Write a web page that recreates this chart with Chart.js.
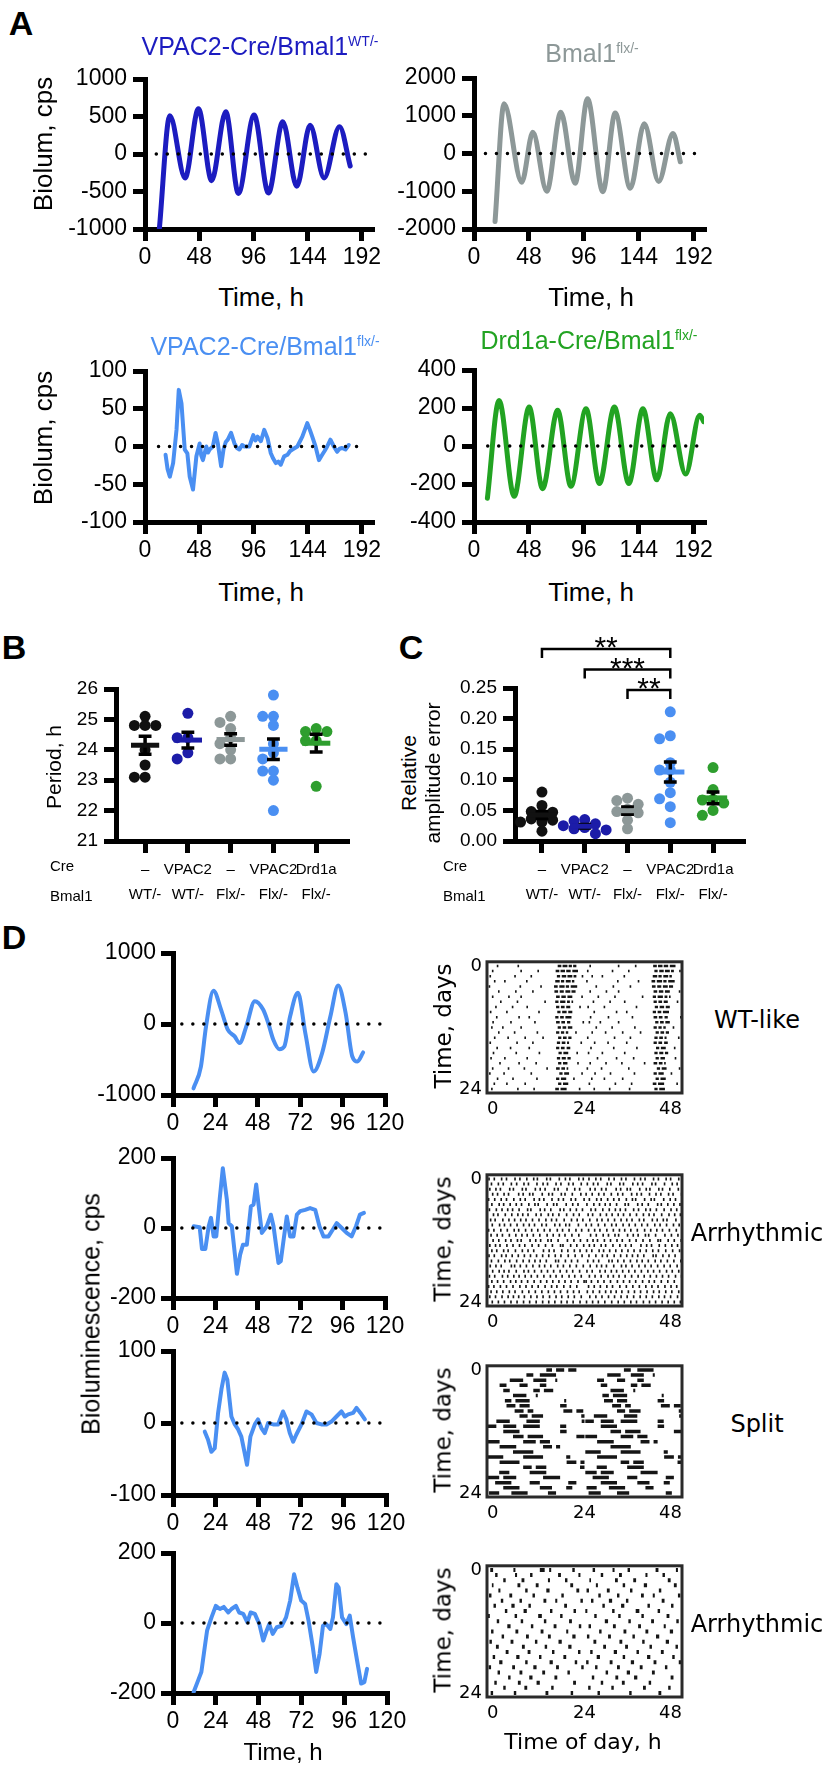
<!DOCTYPE html>
<html>
<head>
<meta charset="utf-8">
<script src="https://cdn.jsdelivr.net/npm/chart.js@4.4.0/dist/chart.umd.min.js"></script>
<style>
  body { margin: 0; background: #fff; }
  #page { position: relative; width: 826px; height: 1769px; overflow: hidden; font-family: "Liberation Sans", Arial, sans-serif; background: #fff; }
  canvas { position: absolute; }
  .t { position: absolute; white-space: nowrap; line-height: 1; transform-origin: 50% 50%; }
  .sup { font-size: 0.56em; position: relative; top: -0.62em; }
</style>
</head>
<body>
<div id="page"></div>
<script>
const page = document.getElementById("page");
const FONT = '"Liberation Sans", Arial, sans-serif';
const DJ = '"DejaVu Sans", sans-serif';
Chart.defaults.font.family = FONT;
Chart.defaults.color = "#000";

// ---- Panel A: bioluminescence traces (hours, cps) ----
const a1Time = [12.7, 22.0, 35.5, 47.3, 59.0, 71.5, 82.7, 96.6, 109.3, 122.0, 134.4, 146.2, 158.6, 172.2, 181.7];
const a1Lum = [-1000, 510, -320, 605, -355, 565, -525, 520, -520, 430, -430, 385, -320, 365, -160];

const a2Time = [18.4, 26.3, 41.7, 51.4, 63.6, 75.9, 88.4, 99.2, 112.6, 123.4, 136.6, 148.8, 161.4, 173.9, 180.3];
const a2Lum = [-1800, 1320, -760, 560, -1000, 1090, -790, 1450, -1010, 1070, -920, 790, -740, 530, -220];

const a3Time = [18.2, 20.0, 22.0, 24.9, 27.9, 29.9, 32.3, 35.2, 37.5, 39.6, 42.5, 44.0, 45.5, 48.4, 49.8, 51.3, 54.3, 55.8, 57.2, 60.1, 62.5, 64.5, 67.4, 69.5, 71.5, 73.3, 76.2, 79.2, 81.5, 83.6, 86.0, 88.0, 92.4, 95.9, 97.8, 99.7, 102.6, 105.6, 108.5, 111.4, 113.5, 115.8, 118.0, 120.2, 123.2, 126.1, 128.5, 130.5, 134.9, 139.3, 143.7, 146.0, 148.1, 151.0, 154.0, 156.9, 159.0, 161.3, 164.2, 167.2, 170.1, 172.3, 174.5, 177.5, 180.4];
const a3Lum = [-11, -30, -40, -22, 22, 75, 57, -4, -9, -40, -57, -35, -13, 4, -12, -18, 0, -8, -4, 0, 18, 4, -26, -4, 6, 9, 18, 4, -2, -4, 2, 0, 0, 15, 8, 13, 7, 22, 11, -9, -16, -22, -20, -24, -13, -11, -6, -4, 0, 13, 31, 22, 13, 0, -18, -11, -6, 0, 9, 0, -7, -3, -2, -4, 2];

const a4Time = [11.7, 21.9, 35.1, 48.2, 59.9, 73.1, 84.7, 97.9, 109.6, 122.7, 135.3, 147.6, 159.8, 171.5, 185.0, 197.2, 200.7];
const a4Lum = [-275, 240, -265, 205, -225, 188, -212, 196, -198, 205, -198, 196, -178, 170, -148, 162, 128];

const aTicksX = [0, 48, 96, 144, 192];

// ---- Panels B and C: per-slice values by genotype ----
const creLabels = ["\u2013", "VPAC2", "\u2013", "VPAC2", "Drd1a"];
const bmalLabels = ["WT/-", "WT/-", "Flx/-", "Flx/-", "Flx/-"];
const groupColors = ["#111111", "#1c1ca8", "#8d9898", "#4a8ff2", "#2e9e2e"];

const periodVals = [
  [25.1, 24.8, 24.8, 24.8, 24.0, 23.5, 23.1, 23.1],
  [25.2, 24.4, 24.4, 23.9, 23.7],
  [25.1, 24.9, 24.7, 24.4, 24.2, 24.0, 23.7, 23.7],
  [25.8, 25.1, 25.1, 24.8, 24.2, 23.9, 23.7, 23.3, 23.3, 23.0, 22.0],
  [24.7, 24.6, 24.6, 24.3, 24.3, 22.8]
];
const raeVals = [
  [0.080, 0.058, 0.048, 0.047, 0.044, 0.036, 0.034, 0.031, 0.031, 0.016],
  [0.035, 0.033, 0.028, 0.025, 0.022, 0.020, 0.018, 0.012],
  [0.070, 0.066, 0.060, 0.052, 0.048, 0.046, 0.034, 0.020],
  [0.211, 0.172, 0.167, 0.128, 0.116, 0.116, 0.096, 0.079, 0.069, 0.056, 0.030],
  [0.120, 0.084, 0.068, 0.067, 0.062, 0.050, 0.042]
];
const sigPairs = [[0, 3], [1, 3], [2, 3]];
const sigMarks = ["**", "***", "**"];

// ---- Panel D: example traces ----
const d1Time = [11.6, 15.8, 18.7, 22.9, 27.2, 31.0, 34.9, 37.7, 41.5, 46.3, 51.0, 53.9, 56.8, 60.2, 63.0, 66.3, 70.7, 74.9, 79.6, 84.4, 89.1, 93.5, 97.7, 101.5, 104.4, 107.6];
const d1Lum = [-906, -599, -33, 470, 203, -80, -175, -269, -33, 321, 203, 14, -222, -354, -316, 108, 439, -127, -670, -410, 108, 542, 156, -458, -528, -401];

const d2Time = [11.7, 15.1, 16.4, 18.3, 20.2, 21.5, 23.0, 24.5, 26.4, 28.2, 30.5, 31.5, 33.3, 34.7, 36.2, 38.0, 39.6, 41.8, 44.1, 45.6, 47.1, 48.4, 50.3, 53.1, 55.4, 56.9, 59.7, 61.0, 62.5, 64.4, 66.3, 68.2, 70.1, 72.0, 74.8, 77.6, 80.5, 82.9, 85.2, 88.0, 90.4, 92.7, 95.5, 98.3, 101.1, 103.6, 105.8, 108.1];
const d2Lum = [5, 2, -60, -60, 5, 29, -24, -24, 81, 171, 81, 14, 5, -60, -131, -76, -48, -48, 62, 67, 124, 67, -14, 5, 38, 5, -100, -95, -38, 33, -24, -24, 38, 48, 52, 57, 52, 5, -24, -24, -5, 14, 0, -14, -24, 5, 38, 43];

const d3Time = [17.9, 19.7, 21.6, 23.5, 25.4, 27.3, 29.1, 30.6, 32.9, 34.8, 36.7, 38.5, 40.4, 41.7, 43.6, 46.1, 47.9, 49.8, 51.7, 53.6, 56.4, 59.2, 62.0, 63.9, 65.8, 67.7, 69.5, 72.4, 75.2, 78.0, 80.8, 83.6, 86.5, 89.3, 92.1, 94.9, 96.8, 98.7, 101.5, 103.4, 105.6, 108.1];
const d3Lum = [-12, -23, -40, -35, 14, 47, 70, 60, 9, -2, -9, -19, -42, -58, -19, -2, 5, -7, -14, 0, -2, -2, 16, 5, -14, -26, -16, -2, 16, 12, 0, -2, -2, 2, 9, 16, 9, 12, 14, 21, 14, 5];

const d4Time = [11.6, 14.1, 15.9, 17.8, 19.1, 21.6, 24.0, 26.3, 28.5, 31.0, 32.8, 35.3, 37.1, 39.4, 41.7, 43.5, 45.9, 48.4, 50.6, 52.5, 54.0, 55.9, 58.2, 61.0, 63.4, 65.7, 67.9, 69.8, 71.9, 74.1, 76.0, 78.4, 80.3, 82.2, 84.1, 85.9, 88.2, 89.7, 91.6, 92.9, 94.8, 97.2, 99.1, 101.0, 103.2, 105.5, 107.3, 108.8];
const d4Lum = [-197, -164, -140, -69, -22, 16, 49, 40, 46, 30, 40, 49, 30, 26, 2, 30, 26, -3, -50, -22, -3, -31, -12, -8, 16, 64, 139, 101, 64, 54, 7, -69, -140, -88, -8, -3, -17, 16, 111, 101, 16, -3, 21, -41, -107, -173, -169, -131];

const dTicksX = [0, 24, 48, 72, 96, 120];

// ---- Actograms: activity per day, hours 0-24 ("a-b" bout or single tick "a") ----
const TICK_H = 0.4;
const actoWT = [
  "2.4 7.5 17.4-18.3 18.6-19.8 20.1-20.9 21.2-22.0", "1.2 8.2 12.4 16.9-17.8 18.1-19.2 19.5-20.6 21.0-22.4",
  "0.6 6.7 10.7 17.2-18.0 18.4-19.5 19.8-21.0 21.3-22.0 23.3", "1.7 4.2 9.6 16.8-17.9 18.2-19.0 19.4-20.6 20.9-21.5",
  "0.4 8.0 13.1 16.5-17.4 17.8-19.1 19.4-20.2 20.6-22.2", "2.7 6.9 11.1 16.6-17.5 17.9-18.9 19.3-20.5 20.8-21.8",
  "1.2 5.2 8.2 17.0-17.9 18.3-19.4 19.8-21.0 23.2", "3.2 7.3 14.1 16.8-17.6 18.0-19.3 19.7-20.4 20.8-21.2",
  "2.0 6.1 9.7 17.0-17.8 18.2-19.1 19.5-20.5 22.7", "0.7 4.7 12.6 17.3-18.1 18.5-19.6 20.0-21.0",
  "2.2 7.7 10.2 16.8-17.6 18.0-18.9 19.3-20.8", "1.3 5.7 11.6 17.0-17.9 18.3-19.2 19.7-20.5 23.5",
  "1.0 3.7 8.2 17.4-18.2 18.6-19.5 19.9-21.0", "2.7 6.6 12.2 17.0-17.8 18.2-19.0 19.4-20.0 21.7",
  "1.7 5.0 9.2 13.6 17.5-18.3 18.7-19.6 20.0-20.8", "0.6 7.2 11.1 17.2-18.0 18.4-19.3 19.7-20.2 23.0",
  "2.3 5.6 10.2 17.0-17.8 18.2-19.1 19.6-20.5", "1.4 7.0 12.7 17.6-18.4 18.8-20.0 22.0",
  "0.8 4.2 9.7 17.2-18.0 18.4-19.4 19.8-20.6", "3.0 7.7 11.9 17.5-18.3 18.7-19.8 22.2",
  "1.2 5.1 9.0 14.6 17.0-17.9 18.3-19.2 19.6-20.0", "0.5 4.0 10.7 17.8-18.6 19.0-20.2 23.2",
  "2.4 6.2 12.1 17.0-17.8 18.2-19.5 21.2", "1.6 4.7 9.2 17.5-18.3 18.7-20.0",
  "1.0 7.4 11.4 16.8-17.7 18.1-19.6 22.6", "2.2 6.0 10.9 17.2-18.0 18.4-19.8"
];
const actoArr1 = [
  "0.3 1.6 3.4 4.6 6.7 7.9 9.6 11.3 12.2 14.5 15.4 17.6 19.1 20.2 22.4 23.5",
  "0.9 2.6 3.8 5.8 7.1 8.9 10.0 12.1 13.6 14.7 16.8 18.0 19.9 21.0 23.0",
  "0.5 2.0 3.1 5.4 6.3 8.5 9.4 11.7 12.9 14.1 16.4 17.3 19.5 21.4 22.6",
  "1.2 2.4 4.0 5.1 7.6 8.7 10.3 11.1 13.4 15.0 15.9 18.1 19.0 20.8 22.9",
  "0.2 1.7 3.3 4.6 6.4 8.0 9.2 11.4 12.7 13.8 15.8 17.4 18.6 20.5 21.6 23.7",
  "1.0 2.8 3.9 5.5 7.0 8.3 10.1 11.6 12.4 14.6 16.2 17.0 19.3 20.9 22.2",
  "0.4 2.1 3.5 4.9 6.1 7.7 9.8 10.6 12.9 14.0 15.5 17.8 18.7 20.3 21.8 23.3",
  "1.4 2.5 4.3 5.9 7.4 8.6 9.9 11.9 13.1 14.9 16.0 17.5 19.4 21.1 22.5",
  "0.7 1.8 3.7 5.2 6.6 8.1 9.4 11.0 12.6 14.3 15.7 16.9 18.8 20.6 22.0 23.4",
  "1.1 2.9 4.1 5.6 7.2 8.8 10.2 11.5 13.3 14.4 16.5 17.7 19.2 20.1 22.3",
  "0.2 1.5 3.2 4.8 6.5 7.6 9.3 10.8 12.3 13.9 15.3 17.1 18.4 20.0 21.7 23.1",
  "0.8 2.3 3.6 5.3 6.9 8.4 9.7 11.2 12.8 14.6 16.1 17.6 19.0 20.7 22.4",
  "1.3 2.7 4.4 5.7 7.3 8.2 10.4 11.8 13.0 14.8 15.6 17.3 19.6 21.2 22.8",
  "0.5 1.9 3.0 4.7 6.2 7.8 9.1 10.9 12.5 14.2 15.9 17.9 18.5 20.4 21.9 23.6",
  "1.0 2.2 3.9 5.0 6.8 8.5 9.9 11.3 13.7 15.1 16.3 18.2 19.7 21.3 22.7",
  "0.3 1.6 3.4 4.5 6.0 7.5 9.0 10.5 12.0 13.5 15.0 16.6 18.0 19.8 21.5 23.2",
  "0.9 2.6 4.2 5.4 7.1 8.7 10.2 11.6 12.9 14.4 16.7 17.4 19.1 20.6 22.1",
  "0.6 2.0 3.3 5.8 6.6 8.0 9.5 11.1 12.7 14.0 15.5 17.2 18.6 20.2 21.8 23.5",
  "1.2 2.8 4.0 5.2 7.0 8.9 10.0 11.5 13.2 14.7 16.2 17.8 19.4 20.9 22.6",
  "0.4 1.7 3.6 4.9 6.4 7.7 9.2 10.7 12.2 13.8 15.4 16.8 18.3 20.0 21.4 23.0",
  "1.0 2.4 3.9 5.6 6.9 8.3 9.8 11.4 13.0 14.5 16.0 17.5 19.0 20.5 22.2 23.7",
  "0.2 1.5 3.1 4.6 6.2 7.9 9.4 10.9 12.4 14.1 15.7 17.0 18.7 20.3 21.9",
  "0.8 2.2 3.7 5.3 6.7 8.5 10.1 11.7 13.3 14.9 16.4 17.9 19.6 21.1 22.5",
  "0.5 1.9 3.5 5.0 6.3 7.6 9.0 10.6 12.1 13.6 15.2 16.8 18.2 19.8 21.3 23.0",
  "1.1 2.6 4.1 5.7 7.2 8.8 10.3 11.9 13.5 15.0 16.5 18.1 19.5 21.0 22.7",
  "0.3 1.8 3.2 4.8 6.5 8.1 9.6 11.2 12.6 14.3 15.8 17.3 18.9 20.4 21.9 23.4"
];
const actoSplit = [
  "14.6-16 17-19 20-22", "9.7-11.4 13-17", "5.6-8.9 11.4-14.6 16.8-17.3", "3.1-4.8 8-10 13-14.6",
  "4-5.6 11.4-13 14-16.3", "6.4-9.7 12-12.5", "4.4-6 7-10.5 19-19.5", "4.8-7 8-10.5 18-19.6",
  "6.8-9 10-11.4 18.8-21 22-23.7", "8-10 11-13.8 23.2-24", "2.3-5.6 9.7-13 23.3-24", "0.2-2.3 4-7.2 8.9-13 18-19.5",
  "4-8 18-19.6", "6.4-9 10-13.8 22-24", "0.2-3.1 8.9-12 13-15.5", "3.1-7.2 13.8-16 17-18",
  "6.4-11.4", "0.2-4 8.9-13.8 19.5-20.5", "3.1-8 19.6-22 23-24", "8.9-11 12-14.6 22.9-24",
  "3-5.5 10.5-14.6", "0.2-3 4-7.2 13.8-18", "2-6 10.5-13 20-22", "4-8 13-16 19.5-21",
  "0.5-3 6-10 15-17", "1-4 8-11 20-21.5"
];
const actoArr2 = [
  "0.8-1.5 6.5-7.0 13.0-14.2 15.3-15.8 21.0-21.6", "2.0-2.6 6.9-7.4 10.6-11.2 17.5-18.2 22.5-23.0", "4.0-4.6 8.5-9.2 15.0-15.5 19.2-19.8",
  "1.2-1.6 7.5-8.2 12.0-12.7 20.5-21.2", "2.8-3.3 9.4-10.0 14.6-15.4 22.0-22.7", "0.5-1.1 5.5-6.2 11.2-11.8 18.3-18.9",
  "3.4-4.0 8.0-8.6 13.9-14.6 16.8-17.3 23.0-23.6", "1.6-2.2 6.0-6.8 10.2-10.8 19.0-19.7", "4.4-5.0 9.0-9.8 15.5-16.1 21.3-21.9",
  "0.2-0.7 6.8-7.4 12.6-13.5 18.0-18.6", "2.4-3.0 8.3-8.9 14.0-14.6 20.2-20.9", "5.0-5.8 10.8-11.4 16.4-17.1 22.6-23.2",
  "1.0-1.6 7.0-7.7 13.2-13.9 19.5-20.0", "3.6-4.2 9.6-10.3 15.0-15.7 21.0-21.8", "0.6-1.2 5.8-6.5 11.8-12.4 17.6-18.4",
  "2.2-2.9 8.6-9.3 14.2-14.8 20.0-20.8", "4.6-5.3 10.0-10.7 16.0-16.6 22.4-23.0", "1.4-2.0 7.2-8.0 12.8-13.4 18.8-19.5",
  "3.0-3.8 9.4-10.0 15.4-16.2 21.6-22.2", "0.4-1.0 6.2-6.9 11.4-12.2 17.0-17.7 23.2-23.8", "2.6-3.2 8.0-8.7 13.6-14.3 19.8-20.4",
  "5.2-5.8 10.4-11.2 16.6-17.3", "1.8-2.4 7.6-8.3 12.2-13.0 21.2-21.9", "4.0-4.6 9.2-9.9 15.8-16.4",
  "0.9-1.5 6.6-7.2 14.4-15.1 20.6-21.2", "3.2-3.8 11.0-11.6 18.2-18.9"
];
const actoNames = ["WT-like", "Arrhythmic", "Split", "Arrhythmic"];

// ---------- helpers ----------
function txt(html, x, y, size, o) {
  o = o || {};
  const d = document.createElement("div");
  d.className = "t";
  d.innerHTML = html;
  d.style.left = x + "px";
  d.style.top = y + "px";
  d.style.fontSize = size + "px";
  if (o.color) d.style.color = o.color;
  if (o.bold) d.style.fontWeight = "bold";
  if (o.font) d.style.fontFamily = o.font;
  let tf = o.left ? "translate(0,-50%)" : "translate(-50%,-50%)";
  if (o.rot) tf += " rotate(-90deg)";
  d.style.transform = tf;
  page.appendChild(d);
  return d;
}

function axis(min, max, ticks, size, pad, fmt) {
  return {
    type: "linear", min: min, max: max,
    afterBuildTicks: s => { s.ticks = ticks.map(v => ({ value: v })); },
    ticks: { font: { size: size }, color: "#000", padding: pad, autoSkip: false, maxRotation: 0, callback: fmt || (v => String(v)) },
    grid: { display: true, drawOnChartArea: false, drawTicks: true, tickLength: 12, lineWidth: 5, color: "#000" },
    border: { display: true, width: 5, color: "#000" }
  };
}

// area = chart area [left, top, right, bottom] in page pixels; pad = room around it [l, t, r, b]
function makeChart(area, pad, datasets, xs, ys, plugins) {
  const w = area[2] - area[0] + pad[0] + pad[2];
  const h = area[3] - area[1] + pad[1] + pad[3];
  const c = document.createElement("canvas");
  c.width = w; c.height = h;
  c.style.left = (area[0] - pad[0]) + "px";
  c.style.top = (area[1] - pad[1]) + "px";
  c.style.width = w + "px"; c.style.height = h + "px";
  page.appendChild(c);
  xs.afterFit = s => { s.height = pad[3]; };
  ys.afterFit = s => { s.width = pad[0]; };
  return new Chart(c, {
    type: "line",
    data: { datasets: datasets },
    options: {
      responsive: false, animation: false, events: [],
      layout: { padding: { left: 0, top: pad[1], right: pad[2], bottom: 0 } },
      plugins: { legend: { display: false }, tooltip: { enabled: false } },
      scales: { x: xs, y: ys }
    },
    plugins: plugins || []
  });
}

function trace(xv, yv, color, width, smooth) {
  return {
    data: xv.map((x, i) => ({ x: x, y: yv[i] })),
    borderColor: color, borderWidth: width, pointRadius: 0, tension: 0,
    cubicInterpolationMode: smooth ? "monotone" : "default",
    borderJoinStyle: "round", borderCapStyle: "round", order: 2
  };
}
function zeroLine(from, to) {
  return {
    data: [{ x: from, y: 0 }, { x: to, y: 0 }],
    borderColor: "#000", borderWidth: 3.5, borderDash: [0, 11], borderCapStyle: "round",
    pointRadius: 0, order: 1
  };
}

function mean(a) { return a.reduce((s, v) => s + v, 0) / a.length; }
function sem(a) {
  const m = mean(a);
  const v = a.reduce((s, x) => s + (x - m) * (x - m), 0) / (a.length - 1);
  return Math.sqrt(v / a.length);
}
// spread overlapping dots sideways (beeswarm); gap = smallest allowed distance in px
function swarm(vals, pxPerY, gap) {
  const step = 0.25, placed = [], out = [];
  const cand = [0, -step, step, -2 * step, 2 * step];
  vals.forEach(v => {
    let best = 0, bestD = -1;
    for (const c of cand) {
      const d = placed.reduce((m, p) => Math.min(m, Math.hypot((c - p.o) * 42.8, (v - p.v) * pxPerY)), 1e9);
      if (d >= gap) { best = c; bestD = d; break; }
      if (d > bestD) { best = c; bestD = d; }
    }
    placed.push({ o: best, v: v });
    out.push(best);
  });
  return out;
}
function dotPlot(groups, pxPerY, gap) {
  const ds = [];
  groups.forEach((vals, i) => {
    const offs = swarm(vals, pxPerY, gap);
    const m = mean(vals), s = sem(vals);
    ds.push({ data: vals.map((v, k) => ({ x: i + offs[k], y: v })), showLine: false, pointRadius: 5.5, pointBorderWidth: 0, pointBackgroundColor: groupColors[i], order: 3 });
    ds.push({ data: [{ x: i - 0.15, y: m + s }, { x: i + 0.15, y: m + s }, { x: i, y: m + s }, { x: i, y: m - s }, { x: i - 0.15, y: m - s }, { x: i + 0.15, y: m - s }], borderColor: "#000", borderWidth: 3.5, pointRadius: 0, order: 2 });
    ds.push({ data: [{ x: i - 0.33, y: m }, { x: i + 0.33, y: m }], borderColor: groupColors[i], borderWidth: 5, pointRadius: 0, order: 1 });
  });
  return ds;
}

function boutsOf(str) {
  return str.trim().split(/\s+/).map(tok => {
    const p = tok.split("-").map(Number);
    return p.length > 1 ? p : [p[0], p[0] + TICK_H];
  });
}
// double-plotted: row r shows day r (0-24 h) and day r+1 (24-48 h)
function actoData(days) {
  const out = [];
  for (let r = 0; r < days.length - 1; r++) {
    [[days[r], 0], [days[r + 1], 24]].forEach(([d, off]) => {
      boutsOf(d).forEach(([a, b]) => {
        out.push({ x: a + off, y: r }, { x: b + off, y: r }, { x: b + off, y: null });
      });
    });
  }
  return out;
}

const framePlugin = {
  id: "frame",
  afterDraw(chart) {
    const a = chart.chartArea, ctx = chart.ctx;
    ctx.save();
    ctx.strokeStyle = "#2a2a2a"; ctx.lineWidth = 3;
    ctx.strokeRect(a.left, a.top, a.right - a.left, a.bottom - a.top);
    ctx.restore();
  }
};
const bracketPlugin = {
  id: "brackets",
  afterDatasetsDraw(chart) {
    const ctx = chart.ctx, x = chart.scales.x, top = chart.chartArea.top;
    ctx.save();
    ctx.strokeStyle = "#000"; ctx.fillStyle = "#000"; ctx.lineWidth = 2.5;
    ctx.font = "30px " + FONT; ctx.textAlign = "center"; ctx.textBaseline = "alphabetic";
    sigPairs.forEach((pr, k) => {
      const y = top + 2 - 20.5 * (sigPairs.length - 1 - k);
      const xa = x.getPixelForValue(pr[0]), xb = x.getPixelForValue(pr[1]);
      ctx.beginPath();
      ctx.moveTo(xa, y + 9); ctx.lineTo(xa, y); ctx.lineTo(xb, y); ctx.lineTo(xb, y + 9);
      ctx.stroke();
      ctx.fillText(sigMarks[k], (xa + xb) / 2, y - 9 + 17);
    });
    ctx.restore();
  }
};

// ---------- Panel A ----------
const colA = ["#1c1cc0", "#8d9898", "#4a8ff2", "#22a322"];
const padA = [95, 20, 35, 50];
makeChart([145, 79, 372, 229], padA, [zeroLine(10, 197), trace(a1Time, a1Lum, colA[0], 5, true)],
  axis(0, 201, aTicksX, 23, 3), axis(-1000, 1000, [-1000, -500, 0, 500, 1000], 23, 6));
makeChart([474, 78, 704, 229], padA, [zeroLine(10, 197), trace(a2Time, a2Lum, colA[1], 5, true)],
  axis(0, 201, aTicksX, 23, 3), axis(-2000, 2000, [-2000, -1000, 0, 1000, 2000], 23, 6));
makeChart([145, 371, 372, 522], padA, [zeroLine(12, 197), trace(a3Time, a3Lum, colA[2], 4, false)],
  axis(0, 201, aTicksX, 23, 3), axis(-100, 100, [-100, -50, 0, 50, 100], 23, 6));
makeChart([474, 370, 704, 522], padA, [zeroLine(12, 196), trace(a4Time, a4Lum, colA[3], 5, true)],
  axis(0, 201, aTicksX, 23, 3), axis(-400, 400, [-400, -200, 0, 200, 400], 23, 6));

// ---------- Panels B and C ----------
function groupAxis(min, max) {
  const ax = axis(min, max, [0, 1, 2, 3, 4], 15, 4, (v, i) => [creLabels[i], bmalLabels[i]]);
  ax.ticks.font = { size: 15, lineHeight: 25 / 15 };
  return ax;
}
makeChart([116, 689, 347, 841], [80, 20, 25, 70], dotPlot(periodVals, 152 / 5, 9),
  groupAxis(-0.68, 4.72), axis(21, 26, [21, 22, 23, 24, 25, 26], 19, 6));
makeChart([515, 688, 743, 841], [80, 75, 25, 70], dotPlot(raeVals, 153 / 0.25, 7),
  groupAxis(-0.63, 4.70), axis(0, 0.25, [0, 0.05, 0.1, 0.15, 0.2, 0.25], 19, 6, v => v.toFixed(2)), [bracketPlugin]);

// ---------- Panel D traces ----------
const dBlue = "#4a8ff2";
const padD = [110, 20, 30, 45];
makeChart([173, 953, 385, 1095], padD, [zeroLine(5, 119), trace(d1Time, d1Lum, dBlue, 4, true)],
  axis(0, 120, dTicksX, 23, 3), axis(-1000, 1000, [-1000, 0, 1000], 23, 5));
makeChart([173, 1158, 385, 1298], padD, [zeroLine(5, 119), trace(d2Time, d2Lum, dBlue, 4, false)],
  axis(0, 120, dTicksX, 23, 3), axis(-200, 200, [-200, 0, 200], 23, 5));
makeChart([173, 1351, 386, 1495], padD, [zeroLine(5, 119), trace(d3Time, d3Lum, dBlue, 4, false)],
  axis(0, 120, dTicksX, 23, 3), axis(-100, 100, [-100, 0, 100], 23, 5));
makeChart([173, 1553, 387, 1693], padD, [zeroLine(5, 119), trace(d4Time, d4Lum, dBlue, 4, false)],
  axis(0, 120, dTicksX, 23, 3), axis(-200, 200, [-200, 0, 200], 23, 5));

// ---------- Actograms ----------
const actoSets = [actoWT, actoArr1, actoSplit, actoArr2];
const actoTops = [960, 1173, 1364, 1564];
const actoMarkW = [2.5, 3, 3.5, 4];
function actoAxis(min, max, ticks, rev) {
  return {
    type: "linear", min: min, max: max, reverse: !!rev,
    afterBuildTicks: s => { s.ticks = ticks.map(v => ({ value: v })); },
    ticks: { font: { family: DJ, size: 18 }, color: "#000", padding: rev ? 5 : 6, autoSkip: false, maxRotation: 0, align: rev ? "center" : "inner" },
    grid: { display: false, drawTicks: false },
    border: { display: false }
  };
}
actoSets.forEach((days, k) => {
  const top = actoTops[k];
  makeChart([487, top, 682, top + 133], [45, 14, 14, 34], [{
    data: actoData(days), borderColor: "#151515", borderWidth: actoMarkW[k],
    borderCapStyle: "butt", pointRadius: 0, tension: 0, spanGaps: false
  }], actoAxis(0, 48, [0, 24, 48], false), actoAxis(-0.8, 24.8, [0, 24], true), [framePlugin]);
  txt("Time, days", 443, top + 66, 23, { rot: true, font: DJ });
  txt(actoNames[k], 757, top + 60, 24, { font: DJ });
});

// ---------- text ----------
txt("A", 21, 23, 34, { bold: true });
txt("B", 14, 647, 34, { bold: true });
txt("C", 411, 647, 34, { bold: true });
txt("D", 14, 937, 34, { bold: true });

txt('VPAC2-Cre/Bmal1<span class="sup">WT/-</span>', 260, 46, 25, { color: colA[0] });
txt('Bmal1<span class="sup">flx/-</span>', 592, 53, 25, { color: colA[1] });
txt('VPAC2-Cre/Bmal1<span class="sup">flx/-</span>', 265, 346, 25, { color: colA[2] });
txt('Drd1a-Cre/Bmal1<span class="sup">flx/-</span>', 589, 340, 25, { color: colA[3] });

txt("Biolum, cps", 43, 144, 26, { rot: true });
txt("Biolum, cps", 43, 438, 26, { rot: true });
txt("Time, h", 261, 297, 26);
txt("Time, h", 591, 297, 26);
txt("Time, h", 261, 592, 26);
txt("Time, h", 591, 592, 26);

txt("Period, h", 53, 767, 21, { rot: true });
txt("Relative", 408, 773, 21, { rot: true });
txt("amplitude error", 432, 773, 21, { rot: true });
txt("Cre", 50, 865, 15, { left: true });
txt("Bmal1", 50, 895, 15, { left: true });
txt("Cre", 443, 865, 15, { left: true });
txt("Bmal1", 443, 895, 15, { left: true });

txt("Bioluminescence, cps", 91, 1314, 25, { rot: true });
txt("Time, h", 283, 1752, 24);
txt("Time of day, h", 583, 1742, 22, { font: DJ });
</script>
</body>
</html>
